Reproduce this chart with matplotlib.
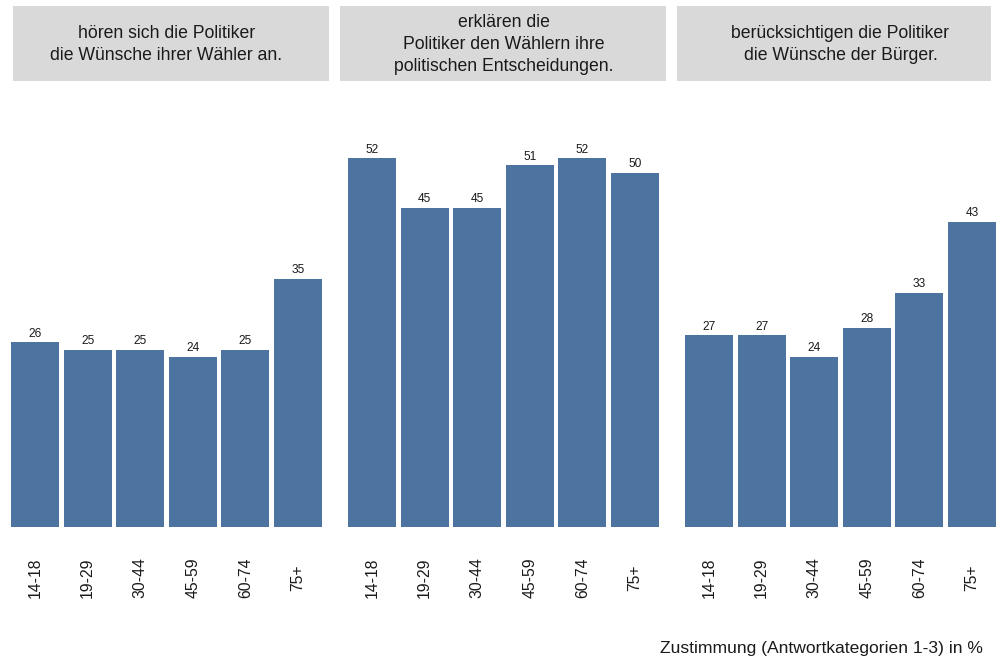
import matplotlib.pyplot as plt
from matplotlib.patches import Rectangle

plt.rcParams['font.family'] = ['Liberation Sans', 'DejaVu Sans']

ages = ['14-18', '19-29', '30-44', '45-59', '60-74', '75+']

titles = [
    'hören sich die Politiker\ndie Wünsche ihrer Wähler an.',
    'erklären die\nPolitiker den Wählern ihre\npolitischen Entscheidungen.',
    'berücksichtigen die Politiker\ndie Wünsche der Bürger.',
]

zuhoeren = [26, 25, 25, 24, 25, 35]
erklaeren = [52, 45, 45, 51, 52, 50]
beruecksichtigen = [27, 27, 24, 28, 33, 43]

values = [zuhoeren, erklaeren, beruecksichtigen]

bar_color = '#4D73A0'
strip_color = '#D9D9D9'

W, H = 1003, 657
fig = plt.figure(figsize=(W / 100, H / 100), dpi=100)

# panel left edges in pixels, strip extents in pixels
panel_left = [8.7, 345.7, 682.7]
panel_w = 315.6
panel_top, panel_bottom = 90, 526.5
strips = [(13, 329), (340, 666), (677, 991)]
strip_top, strip_bottom = 6, 81

px_per_unit = 7.08
ymax = (panel_bottom - panel_top) / px_per_unit

for i in range(3):
    x0, x1 = strips[i]
    fig.patches.append(Rectangle((x0 / W, 1 - strip_bottom / H),
                                 (x1 - x0) / W, (strip_bottom - strip_top) / H,
                                 transform=fig.transFigure,
                                 facecolor=strip_color, edgecolor='none'))
    ax = fig.add_axes([panel_left[i] / W, 1 - panel_bottom / H,
                       panel_w / W, (panel_bottom - panel_top) / H])
    xs = range(len(ages))
    ax.bar(xs, values[i], width=0.915, color=bar_color)
    for x, v in zip(xs, values[i]):
        ax.annotate(str(v), (x, v), xytext=(0, 2), textcoords='offset points',
                    ha='center', va='bottom', fontsize=8.6, color='#1a1a1a')
    ax.set_xlim(-0.5, 5.5)
    ax.set_ylim(0, ymax)
    ax.set_xticks(list(xs))
    ax.set_xticklabels(ages, rotation=90, va='center', fontsize=11.3,
                       color='#1a1a1a')
    ax.tick_params(axis='x', length=0, pad=37)
    ax.set_yticks([])
    for s in ax.spines.values():
        s.set_visible(False)
    cx = (panel_left[i] + panel_w / 2) / W
    fig.text(cx, 1 - 44.5 / H, titles[i], ha='center', va='center',
             fontsize=12.7, color='#1a1a1a', linespacing=1.38)

fig.text(983 / W, 1 - 648 / H, 'Zustimmung (Antwortkategorien 1-3) in %',
         ha='right', va='center', fontsize=12.6, color='#1a1a1a')

fig.savefig('out.png', dpi=100)
